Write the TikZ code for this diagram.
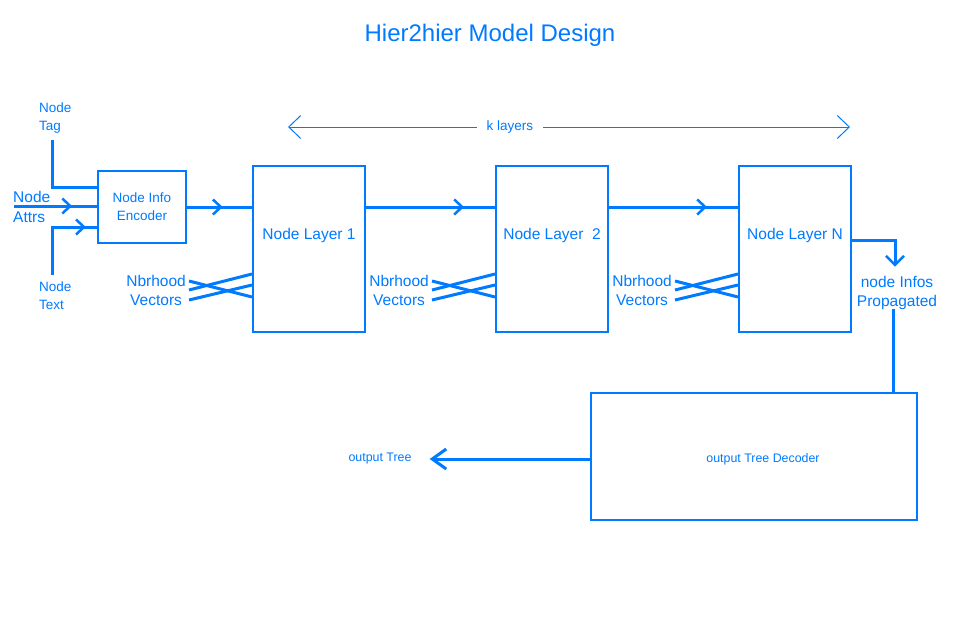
\documentclass[tikz,border=0pt]{standalone}
\usepackage{fontspec}
\setmainfont{Liberation Sans}
\usetikzlibrary{arrows.meta,decorations.markings,positioning}
\definecolor{hblue}{RGB}{0,122,255}

\tikzset{
  box/.style={draw=hblue, line width=2pt, inner sep=0pt},
  layerbox/.style={box, minimum width=112pt, minimum height=166pt},
  flow/.style={draw=hblue, line width=3pt},
  midarrow/.style={postaction={decorate}, decoration={markings,
    mark=at position #1 with {\arrow{Straight Barb[length=8pt,width=15pt,line width=2.5pt]}}}},
  nbr/.style={draw=hblue, line width=3pt},
  span/.style={draw=hblue, line width=1pt, {Straight Barb[length=12pt,width=23pt,line width=1pt]}-{Straight Barb[length=12pt,width=23pt,line width=1pt]}},
  bigtxt/.style={text=hblue, font=\fontsize{15.5}{19}\selectfont, align=center, inner sep=0pt},
  midtxt/.style={text=hblue, font=\fontsize{13.5}{18}\selectfont, align=center, inner sep=0pt},
  smalltxt/.style={text=hblue, font=\fontsize{12.4}{15}\selectfont, inner sep=0pt},
}

\begin{document}
\begin{tikzpicture}[x=1pt,y=-1pt]
  \useasboundingbox (0,0) rectangle (960,621);
  \node[text=hblue, font=\fontsize{24}{27}\selectfont] (title) at (490,35) {Hier2hier Model Design};

  % k layers span
  \coordinate (kl) at (288,127);
  \coordinate (kr) at (850,127);
  \draw[span] (kl) -- node[pos=0.395, midtxt, fill=white, inner xsep=10pt, inner ysep=3pt] (klab) {k layers} (kr);

  % encoder and its inputs
  \node[box, minimum width=88pt, minimum height=72pt, midtxt] (enc) at (142,207) {Node Info\\Encoder};
  \node[midtxt, align=left, anchor=west] (tag) at (39,118) {Node\\Tag};
  \node[bigtxt, align=left, anchor=west, font=\fontsize{15.5}{20}\selectfont] (attrs) at (13,207) {Node\\Attrs};
  \node[midtxt, align=left, anchor=west] (txt) at (39,296) {Node\\Text};
  \coordinate (tagend) at (52,140);
  \coordinate (attrend) at (14,206);
  \coordinate (txtend) at (52,275);
  \draw[flow] (tagend) |- ([yshift=20pt]enc.west);
  \draw[flow, midarrow=0.7] (attrend) -- (attrend -| enc.west);
  \draw[flow, midarrow=0.88] (txtend) |- ([yshift=-20pt]enc.west);

  % node layers
  \node[layerbox] (l1) at (309,249) {};
  \node[layerbox, right=129pt of l1] (l2) {};
  \node[layerbox, right=129pt of l2] (ln) {};
  \foreach \l/\name in {l1/Node Layer 1, l2/{Node Layer\ \ 2}, ln/Node Layer N}
    \node[bigtxt] (\l txt) at ([yshift=14pt]\l.center) {\name};

  \draw[flow, midarrow=0.55] (enc.east) -- (enc.east -| l1.west);
  \draw[flow, midarrow=0.76] (l1.east |- enc.east) -- (l2.west |- enc.east);
  \draw[flow, midarrow=0.76] (l2.east |- enc.east) -- (ln.west |- enc.east);

  % neighbourhood vectors
  \foreach \l/\nb in {l1/nb1, l2/nb2, ln/nb3} {
    \node[bigtxt, anchor=east] (\nb) at ([xshift=-66pt,yshift=-41.5pt]\l.west) {Nbrhood\\Vectors};
    \draw[nbr] ([xshift=3pt,yshift=9.5pt]\nb.east) -- ([yshift=-48pt]\l.west);
    \draw[nbr] ([xshift=3pt,yshift=0.5pt]\nb.east) -- ([yshift=-25pt]\l.west);
    \draw[nbr] ([xshift=3pt,yshift=-9.5pt]\nb.east) -- ([yshift=-36pt]\l.west);
  }

  % propagation and decoder
  \node[bigtxt] (prop) at (897,292.5) {node Infos\\Propagated};
  \draw[flow, -{Straight Barb[length=9pt,width=18pt,line width=2.5pt]}, shorten >=9pt]
    ([yshift=9pt]ln.east) -| ([xshift=-2pt]prop.north);
  \node[box, minimum width=326pt, minimum height=127pt] (dec) at (754,456.5) {};
  \node[smalltxt] (dectxt) at ([xshift=9pt,yshift=-2.5pt]dec.center) {output Tree Decoder};
  \draw[flow] ([xshift=-4pt]prop.south) -- ([xshift=-4pt]prop.south |- dec.north);
  \node[smalltxt] (otree) at (380,459) {output Tree};
  \draw[flow, -{Straight Barb[length=14pt,width=20pt,line width=3pt]}, shorten >=18pt]
    ([yshift=-2.5pt]dec.west) -- (otree.east);
\end{tikzpicture}
\end{document}
